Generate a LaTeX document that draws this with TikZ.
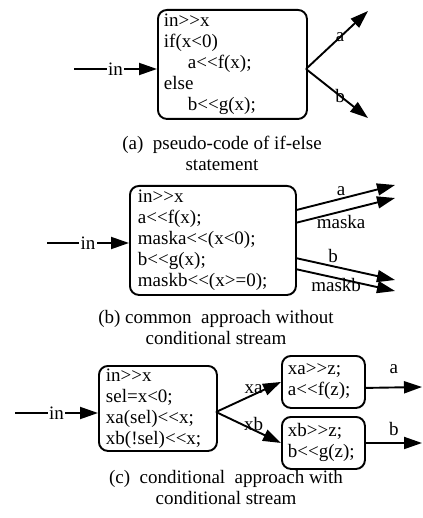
\documentclass[tikz,border=0pt]{standalone}
\usepackage{fontspec}
\setmainfont{Liberation Serif}
\usetikzlibrary{arrows.meta}
\begin{document}
\begin{tikzpicture}[x=1pt,y=-1pt,
  every node/.style={font=\fontsize{19}{21}\selectfont, inner sep=0pt},
  codebox/.style={draw, line width=1.9pt, rounded corners=9pt, align=left,
    anchor=north west, inner ysep=0pt},
  flow/.style={line width=1.9pt, -{Triangle[length=18pt,width=12pt]}},
  onwire/.style={fill=white, inner xsep=1.5pt},
  caption/.style={align=center}
]
\useasboundingbox (0,0) rectangle (422,518);

% ---------- (a) if-else pseudo-code ----------
\node[codebox, inner xsep=6pt, text width=137pt, minimum height=109pt] (boxa) at (157,9)
  {in>{}>x\\ if(x<0)\\ \hspace*{24pt}a<{}<f(x);\\ else\\ \hspace*{24pt}b<{}<g(x);};
\coordinate (ina) at (74,69);
\coordinate (forka) at (306,69);
\coordinate (outa) at (368,11);
\coordinate (outb) at (368,118);
\draw[flow] (ina) -- node[onwire] {in} (boxa.west |- ina);
\draw[flow] (forka) -- node[pos=0.55] {a} (outa);
\draw[flow] (forka) -- node[pos=0.55] {b} (outb);
\node[caption] (capa) at (222,153) {(a)\ \ pseudo-code of if-else\\ statement};

% ---------- (b) masks without conditional stream ----------
\node[codebox, inner xsep=8pt, text width=150pt, minimum height=109pt] (boxb) at (129,185)
  {in>{}>x\\ a<{}<f(x);\\ maska<{}<(x<0);\\ b<{}<g(x);\\ maskb<{}<(x>=0);};
\coordinate (inb) at (47,243);
\coordinate (ob1) at (395,185);
\coordinate (ob2) at (395,198);
\coordinate (ob3) at (395,280);
\coordinate (ob4) at (395,291);
\draw[flow] (inb) -- node[onwire] {in} (boxb.west |- inb);
\draw[flow] (boxb.20) -- node[pos=0.45, above=2pt] {a} (ob1);
\draw[flow] (boxb.12) -- node[pos=0.45, below=3pt] {maska} (ob2);
\draw[flow] (boxb.-12) -- node[pos=0.37, above=3pt] {b} (ob3);
\draw[flow] (boxb.-19.6) -- node[pos=0.4, below=-1pt] {maskb} (ob4);
\node[caption] (capb) at (216,327) {(b) common\ \ approach without\\ conditional stream};

% ---------- (c) conditional stream ----------
\node[codebox, inner xsep=7pt, text width=104pt, minimum height=85pt] (boxc) at (98,365)
  {in>{}>x\\ sel=x<0;\\ xa(sel)<{}<x;\\ xb(!sel)<{}<x;};
\node[codebox, inner xsep=6pt, text width=71pt, minimum height=52pt] (boxxa) at (281,355)
  {xa>{}>z;\\ a<{}<f(z);};
\node[codebox, inner xsep=6pt, text width=71pt, minimum height=52pt] (boxxb) at (281,416)
  {xb>{}>z;\\ b<{}<g(z);};
\coordinate (inc) at (15,413);
\coordinate (forkc) at (216,412);
\coordinate (oca) at (422,387);
\coordinate (ocb) at (422,443);
\draw[flow] (inc) -- node[onwire] {in} (boxc.west |- inc);
\draw[flow] (forkc) -- node[pos=0.58, above=0pt] {xa} (boxxa.west);
\draw[flow] (forkc) -- node[pos=0.58, yshift=6pt] {xb} (boxxb.west);
\draw[flow] (boxxa.-8) -- node[midway, above=13pt, anchor=south] {a} (oca);
\draw[flow] (boxxb.east) -- node[midway, above=6pt, anchor=south] {b} (ocb);
\node[caption] (capc) at (226,487) {(c)\ \ conditional\ \ approach with\\ conditional stream};
\end{tikzpicture}
\end{document}
